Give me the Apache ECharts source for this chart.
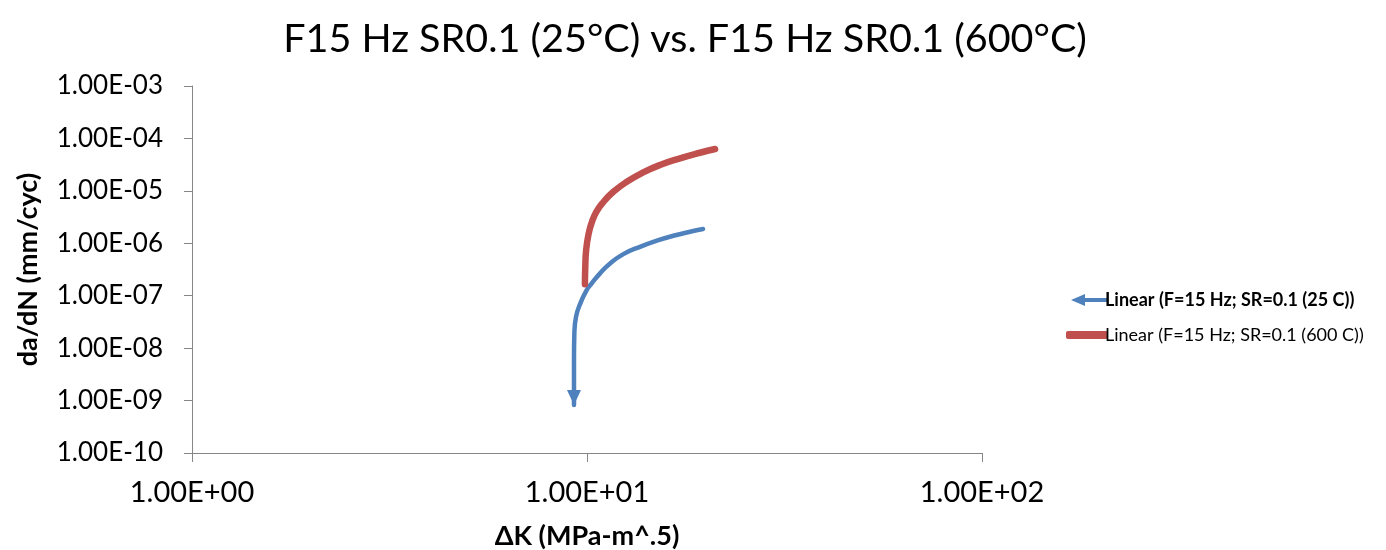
<!DOCTYPE html>
<html>
<head>
<meta charset="utf-8">
<title>F15 Hz SR0.1 (25°C) vs. F15 Hz SR0.1 (600°C)</title>
<script src="https://cdn.jsdelivr.net/npm/echarts@6/dist/echarts.min.js"></script>
<style>
  html, body { margin: 0; padding: 0; background: #fff; }
  #chart { width: 1386px; height: 550px; }
</style>
</head>
<body>
<div id="chart"></div>
<script>
// Linear trendlines of crack growth rate vs. stress intensity range (log-log)
const seriesNames = [
  'Linear (F=15 Hz; SR=0.1 (25 C))',
  'Linear (F=15 Hz; SR=0.1 (600 C))'
];

// 25 C trendline: [ΔK, da/dN]
const room = [
  [19.67, 1.87e-6],
  [18.23, 1.66e-6],
  [16.54, 1.39e-6],
  [15.02, 1.12e-6],
  [13.62, 8.57e-7],
  [12.36, 6.22e-7],
  [11.44, 4.13e-7],
  [10.79, 2.67e-7],
  [10.28, 1.72e-7],
  [9.98, 1.28e-7],
  [9.60, 6.9e-8],
  [9.38, 3.96e-8],
  [9.29, 1.91e-8],
  [9.27, 6.8e-9],
  [9.27, 2.45e-9],
  [9.27, 8.2e-10]
];

// 600 C trendline: [ΔK, da/dN]
const hot = [
  [21.10, 6.28e-5],
  [19.32, 5.33e-5],
  [17.20, 4.17e-5],
  [15.30, 3.11e-5],
  [13.88, 2.25e-5],
  [12.61, 1.49e-5],
  [11.66, 9.6e-6],
  [11.02, 6.2e-6],
  [10.56, 3.99e-6],
  [10.29, 2.54e-6],
  [10.09, 1.50e-6],
  [9.95, 7.4e-7],
  [9.90, 3.56e-7],
  [9.88, 1.66e-7]
];

const xTickLabels = ['1.00E+00', '1.00E+01', '1.00E+02'];
const yTickLabels = ['1.00E-10', '1.00E-09', '1.00E-08', '1.00E-07',
                     '1.00E-06', '1.00E-05', '1.00E-04', '1.00E-03'];

const BLUE = '#4F81BD';
const RED = '#C0504D';
const AXIS = '#868686';
const FONT = 'Lato, "Open Sans", sans-serif';

// last point of the 25 C line carries a downward arrow head
const roomData = room.map((p, i) => i === room.length - 1
  ? { value: p, symbol: 'triangle', symbolSize: [14, 15], symbolRotate: 180,
      symbolOffset: [0, -7.5], itemStyle: { color: BLUE } }
  : { value: p });

const chart = echarts.init(document.getElementById('chart'), null, { renderer: 'canvas' });

chart.setOption({
  animation: false,
  backgroundColor: '#ffffff',
  title: {
    text: 'F15 Hz SR0.1 (25°C) vs. F15 Hz SR0.1 (600°C)',
    left: 680,
    textAlign: 'center',
    top: 14,
    textStyle: { fontFamily: FONT, fontSize: 39.5, fontWeight: 'normal', color: '#000' }
  },
  legend: [
    {
      orient: 'vertical',
      left: 1066,
      top: 286,
      itemWidth: 37,
      itemHeight: 12,
      itemGap: 0,
      data: [{
        name: seriesNames[0],
        icon: 'path://M0,6 L14,0 L14,4 L37,4 L37,8 L14,8 L14,12 Z',
        itemStyle: { color: BLUE },
        textStyle: { fontWeight: 'bold' }
      }],
      textStyle: { fontFamily: FONT, fontSize: 18, color: '#000', padding: [0, 0, 0, -8] },
      selectedMode: false
    },
    {
      orient: 'vertical',
      left: 1061,
      top: 321,
      itemWidth: 42,
      itemHeight: 8,
      data: [{
        name: seriesNames[1],
        icon: 'roundRect',
        itemStyle: { color: RED, borderRadius: 4 }
      }],
      textStyle: { fontFamily: FONT, fontSize: 18, color: '#000', padding: [0, 0, 0, -8] },
      selectedMode: false
    }
  ],
  grid: {
    left: 192, right: 404, top: 86, bottom: 97,
    containLabel: false,
    outerBoundsMode: 'none'
  },
  xAxis: {
    type: 'log',
    logBase: 10,
    min: 1,
    max: 100,
    interval: 1,
    name: 'ΔK (MPa-m^.5)',
    nameLocation: 'middle',
    nameGap: 70,
    nameTextStyle: { fontFamily: FONT, fontSize: 27, fontWeight: 'bold', color: '#000' },
    axisLine: { show: true, lineStyle: { color: AXIS, width: 1 } },
    axisTick: { show: true, inside: false, length: 9, lineStyle: { color: AXIS } },
    axisLabel: {
      margin: 25,
      fontFamily: FONT, fontSize: 29, color: '#000',
      formatter: v => xTickLabels[Math.round(Math.log10(v))]
    },
    splitLine: { show: false },
    minorTick: { show: false }
  },
  yAxis: {
    type: 'log',
    logBase: 10,
    min: 1e-10,
    max: 1e-3,
    interval: 1,
    name: 'da/dN (mm/cyc)',
    nameLocation: 'middle',
    nameGap: 150,
    nameTextStyle: { fontFamily: FONT, fontSize: 27, fontWeight: 'bold', color: '#000' },
    axisLine: { show: true, lineStyle: { color: AXIS, width: 1 } },
    axisTick: { show: true, inside: false, length: 8, lineStyle: { color: AXIS } },
    axisLabel: {
      margin: 29,
      fontFamily: FONT, fontSize: 26, color: '#000',
      formatter: v => yTickLabels[Math.round(Math.log10(v)) + 10]
    },
    splitLine: { show: false },
    minorTick: { show: false }
  },
  series: [
    {
      name: seriesNames[0],
      type: 'line',
      data: roomData,
      smooth: 0.5,
      symbol: 'none',
      showSymbol: true,
      showAllSymbol: true,
      color: BLUE,
      lineStyle: { color: BLUE, width: 4.5, cap: 'round', join: 'round' },
      z: 2
    },
    {
      name: seriesNames[1],
      type: 'line',
      data: hot,
      smooth: 0.5,
      symbol: 'none',
      color: RED,
      lineStyle: { color: RED, width: 6.5, cap: 'round', join: 'round' },
      z: 3
    }
  ]
});
</script>
</body>
</html>
